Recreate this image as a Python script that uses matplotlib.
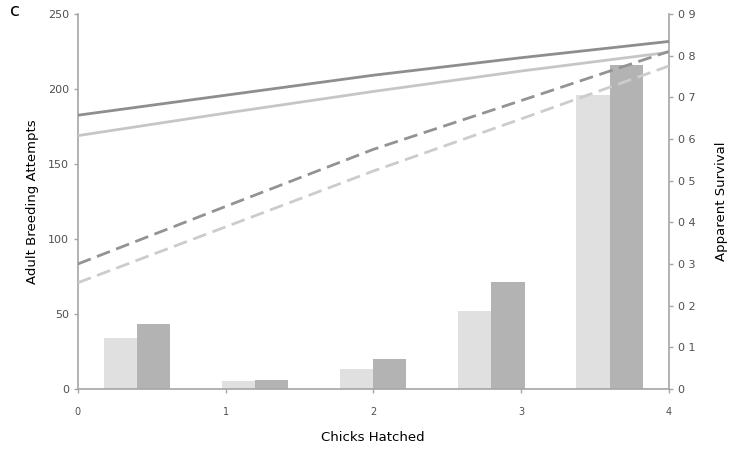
import matplotlib
matplotlib.use("Agg")
import matplotlib.pyplot as plt
import numpy as np

# bars: adult breeding attempts per number of chicks hatched
categories = [0, 1, 2, 3, 4]
attempts_light = [34, 5, 13, 52, 196]
attempts_dark = [43, 6, 20, 71, 216]

# apparent survival curves
chicks = [0, 1, 2, 3, 4]
surv_dark_solid = [0.657, 0.705, 0.753, 0.795, 0.834]
surv_light_solid = [0.608, 0.662, 0.714, 0.763, 0.808]
surv_dark_dash = [0.300, 0.438, 0.575, 0.692, 0.810]
surv_light_dash = [0.255, 0.389, 0.523, 0.648, 0.775]

left_ticks = [0, 50, 100, 150, 200, 250]
right_ticks = [0, 0.1, 0.2, 0.3, 0.4, 0.5, 0.6, 0.7, 0.8, 0.9]
right_labels = ["0", "0 1", "0 2", "0 3", "0 4", "0 5", "0 6", "0 7", "0 8", "0 9"]

plt.rcParams["font.family"] = ["DejaVu Sans"]
spine_c = "#a6a6a6"
txt_c = "#505050"

fig = plt.figure(figsize=(7.34, 4.51), dpi=100)
rect = [0.106, 0.1375, 0.805, 0.8315]

# bar axes (left scale)
axb = fig.add_axes(rect)
w = 0.28
x = np.arange(len(categories))
axb.bar(x - w / 2, attempts_light, width=w, color="#e0e0e0", zorder=2)
axb.bar(x + w / 2, attempts_dark, width=w, color="#b3b3b3", zorder=2)
axb.set_xlim(-0.5, 4.5)
axb.set_ylim(0, 250)
axb.set_xticks([])
axb.set_yticks(left_ticks)
axb.tick_params(axis="y", labelsize=8, colors=spine_c, labelcolor=txt_c, length=3, width=1)
for s in ["top", "right"]:
    axb.spines[s].set_visible(False)
for s in ["left", "bottom"]:
    axb.spines[s].set_color(spine_c)
    axb.spines[s].set_linewidth(1.2)
axb.set_ylabel("Adult Breeding Attempts", fontsize=9.5, color="black", labelpad=6)

# line axes (right scale)
axl = fig.add_axes(rect)
axl.patch.set_alpha(0)
axl.plot(chicks, surv_dark_solid, color="#8e8e8e", lw=2.0, zorder=3)
axl.plot(chicks, surv_light_solid, color="#c6c6c6", lw=2.0, zorder=3)
axl.plot(chicks, surv_dark_dash, color="#939393", lw=2.0, ls=(0, (5, 2.4)), zorder=3)
axl.plot(chicks, surv_light_dash, color="#cccccc", lw=2.0, ls=(0, (5, 2.4)), zorder=3)
axl.set_xlim(0, 4)
axl.set_ylim(0, 0.9)
axl.yaxis.tick_right()
axl.yaxis.set_label_position("right")
axl.set_yticks(right_ticks)
axl.set_yticklabels(right_labels)
axl.set_xticks(chicks)
axl.tick_params(axis="y", labelsize=8, colors=spine_c, labelcolor=txt_c, length=3, width=1)
axl.tick_params(axis="x", labelsize=7, colors=spine_c, labelcolor=txt_c, length=3, width=1, pad=10)
for s in ["top", "left", "bottom"]:
    axl.spines[s].set_visible(False)
axl.spines["right"].set_color(spine_c)
axl.spines["right"].set_linewidth(1.2)
axl.set_ylabel("Apparent Survival", fontsize=9.5, color="black", labelpad=14)
axl.set_xlabel("Chicks Hatched", fontsize=9.5, color="black", labelpad=10)

fig.text(0.014, 0.975, "c", fontsize=13, va="center", ha="left")

fig.savefig("out.png", dpi=100)
